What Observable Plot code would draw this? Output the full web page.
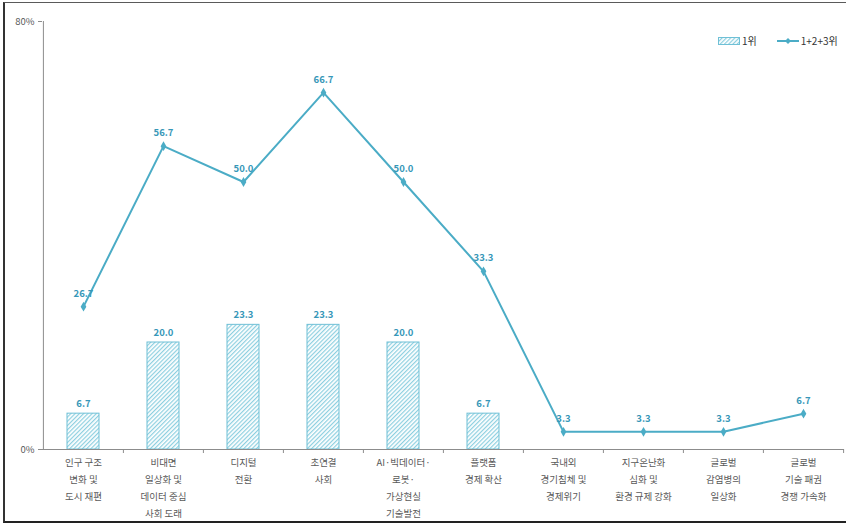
<!DOCTYPE html>
<html>
<head>
<meta charset="utf-8">
<script src="https://cdn.jsdelivr.net/npm/d3@7"></script>
<script src="https://cdn.jsdelivr.net/npm/@observablehq/plot@0.6"></script>
<style>
  html, body { margin: 0; padding: 0; background: #fff; }
  #wrap { position: relative; width: 846px; height: 525px; overflow: hidden; font-family: "Noto Sans CJK KR", "Noto Sans", sans-serif; }
  #wrap svg.plot { position: absolute; left: 0; top: 0; }
  #frame { position: absolute; left: 3px; top: 2px; width: 880px; height: 518px; border-top: 1px solid #5a5a5a; border-left: 2px solid #333; border-bottom: 2px solid #222; pointer-events: none; }
  #legend { position: absolute; left: 718px; top: 33px; width: max-content; font-size: 10px; color: #333; display: flex; align-items: center; white-space: nowrap; }
  #legend .item { display: flex; align-items: center; flex-shrink: 0; }
  #legend span { margin-left: 2px; }
</style>
</head>
<body>
<div id="wrap">
  <div id="frame"></div>
  <div id="legend">
    <div class="item">
      <svg width="22" height="8"><rect x="0.5" y="0.5" width="21" height="7" fill="url(#hatchL)" stroke="#6fc0d6" stroke-width="1"></rect></svg>
      <span>1위</span>
    </div>
    <div class="item" style="margin-left:20px">
      <svg width="22" height="8"><line x1="0" y1="4" x2="22" y2="4" stroke="#4bacc6" stroke-width="2"></line><path d="M11,1 L14,4 L11,7 L8,4 Z" fill="#4bacc6"></path></svg>
      <span>1+2+3위</span>
    </div>
  </div>
</div>
<script>
const categories = [
  "인구 구조\n변화 및\n도시 재편",
  "비대면\n일상화 및\n데이터 중심\n사회 도래",
  "디지털\n전환",
  "초연결\n사회",
  "AI·빅데이터·\n로봇·\n가상현실\n기술발전",
  "플랫폼\n경제 확산",
  "국내외\n경기침체 및\n경제위기",
  "지구온난화\n심화 및\n환경 규제 강화",
  "글로벌\n감염병의\n일상화",
  "글로벌\n기술 패권\n경쟁 가속화"
];
const rank1 = [6.7, 20.0, 23.3, 23.3, 20.0, 6.7, 0, 0, 0, 0];
const top3 = [26.7, 56.7, 50.0, 66.7, 50.0, 33.3, 3.3, 3.3, 3.3, 6.7];
const yTicks = [0, 80];

const rows = categories.map((c, i) => ({cat: c, r1: rank1[i], t3: top3[i]}));
const barRows = rows.filter(d => d.r1 > 0);

const W = 846, H = 525, ML = 42, MR = 2, MT = 21, MB = 76;
const step = (W - ML - MR) / categories.length;
const fmt = d3.format(".1f");
const lineColor = "#4bacc6";
const labelColor = "#3797b8";
const axisColor = "#8c8c8c";
const textColor = "#595959";

const chart = Plot.plot({
  width: W, height: H,
  marginLeft: ML, marginRight: MR, marginTop: MT, marginBottom: MB,
  style: {fontFamily: '"Noto Sans CJK KR", "Noto Sans", sans-serif', fontSize: "9.5px", color: textColor, background: "transparent"},
  x: {type: "band", domain: categories, paddingInner: 0.6, paddingOuter: 0.3},
  y: {domain: [0, 80]},
  marks: [
    Plot.barY(barRows, {x: "cat", y: "r1", fill: "url(#hatch)", stroke: "#6fc0d6", strokeWidth: 1}),
    Plot.ruleY([0], {stroke: axisColor, strokeWidth: 1}),
    Plot.ruleX([categories[0]], {dx: -step / 2, y1: 0, y2: 80, stroke: axisColor, strokeWidth: 1}),
    Plot.ruleX(categories.slice(1), {dx: -step / 2, y1: 0, y2: 0, insetBottom: -4, stroke: axisColor, strokeWidth: 1}),
    Plot.ruleX([categories[categories.length - 1]], {dx: step / 2, y1: 0, y2: 0, insetBottom: -4, stroke: axisColor, strokeWidth: 1}),
    Plot.axisY({ticks: yTicks, tickFormat: d => d + "%", tickSize: 4, tickPadding: 4, stroke: axisColor, fill: textColor, label: null, fontSize: "9.5px"}),
    Plot.axisX({tickSize: 0, tickPadding: 5, lineHeight: 1.76, fill: textColor, label: null, fontSize: "9.5px"}),
    Plot.line(rows, {x: "cat", y: "t3", stroke: lineColor, strokeWidth: 2}),
    Plot.dot(rows, {x: "cat", y: "t3", symbol: "diamond", r: 3, fill: lineColor, stroke: "none"}),
    Plot.text(barRows, {x: "cat", y: "r1", text: d => fmt(d.r1), dy: -10, fill: labelColor, fontWeight: "bold", fontSize: "9.5px"}),
    Plot.text(rows, {x: "cat", y: "t3", text: d => fmt(d.t3), dy: -13, fill: labelColor, fontWeight: "bold", fontSize: "9.5px"})
  ]
});

const svg = d3.select(chart);
const defs = svg.insert("defs", ":first-child");
function addHatch(sel, id) {
  const p = sel.append("pattern")
    .attr("id", id)
    .attr("patternUnits", "userSpaceOnUse")
    .attr("width", 3).attr("height", 3)
    .attr("patternTransform", "rotate(45)");
  p.append("rect").attr("width", 3).attr("height", 3).attr("fill", "#ffffff");
  p.append("line").attr("x1", 0.6).attr("y1", 0).attr("x2", 0.6).attr("y2", 3)
    .attr("stroke", "#8ccfe0").attr("stroke-width", 1.2);
}
addHatch(defs, "hatch");
document.getElementById("wrap").appendChild(chart);
const ldefs = d3.select("#legend svg").insert("defs", ":first-child");
addHatch(ldefs, "hatchL");
</script>
</body>
</html>
